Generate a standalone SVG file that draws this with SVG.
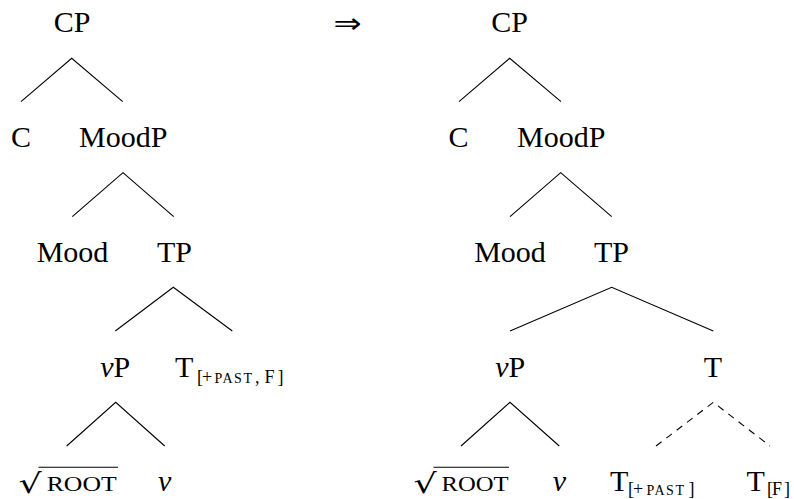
<svg xmlns="http://www.w3.org/2000/svg" width="794" height="499" viewBox="0 0 794 499">
<style>
text{font-family:"Liberation Serif","DejaVu Serif",serif;fill:#000}
.n{font-size:30px;text-anchor:middle}
.s{font-size:30px}
.sub{font-size:18px}
.sc{font-size:14px;letter-spacing:1.5px}
.rt{font-size:22px}
.rad{font-family:"DejaVu Serif",serif;font-size:27px}
.it{font-style:italic}
.e{stroke:#000;stroke-width:1.1;fill:none}
.d{stroke:#000;stroke-width:1.1;fill:none;stroke-dasharray:7 6}
</style>
<rect width="794" height="499" fill="#fff"/>
<g id="connectors">
<path class="e" d="M21 101.7L71.7 58.3L122.7 101.7"/>
<path class="e" d="M72.3 216.7L123 172.7L173.7 216.7"/>
<path class="e" d="M115.3 331L173.3 287.3L232.3 331"/>
<path class="e" d="M66.7 446L115.7 402.3L164.7 446"/>
<path class="e" d="M459 101.7L509.7 58.3L561 101.7"/>
<path class="e" d="M510 216.7L560.7 172.7L611.7 216.7"/>
<path class="e" d="M510 331L611.7 287.3L713.3 331"/>
<path class="e" d="M461 446L510 402.3L559.3 446"/>
<path class="d" d="M656 446L713.3 402.3L770 446"/>
</g>
<g id="arrow"><text transform="translate(347.5,33) scale(1.2,1)" style="font-family:'DejaVu Sans',sans-serif;font-size:28px;text-anchor:middle">⇒</text></g>
<g id="L-CP"><text class="n" x="72" y="32.3">CP</text></g>
<g id="L-C"><text class="n" x="21" y="146.7">C</text></g>
<g id="L-MoodP"><text class="n" x="123.3" y="146.7">MoodP</text></g>
<g id="L-Mood"><text class="n" x="72.5" y="261.7">Mood</text></g>
<g id="L-TP"><text class="n" x="174.5" y="261.7">TP</text></g>
<g id="L-vP"><text class="n" x="115.3" y="377"><tspan class="it">ν</tspan>P</text></g>
<g id="L-T"><text class="s" x="175" y="377">T</text><text class="sub" y="383.3"><tspan x="197">[</tspan><tspan x="202">+</tspan><tspan x="214.5" class="sc">PAST</tspan><tspan x="255">,</tspan><tspan x="264.5">F</tspan><tspan x="277.5">]</tspan></text></g>
<g id="L-root"><text class="rad" transform="translate(18.5,493) scale(1.35,1)">√</text><line class="e" x1="38.5" y1="467.2" x2="118" y2="467.2"/><text class="rt" x="46.7" y="491" textLength="70" lengthAdjust="spacingAndGlyphs">ROOT</text></g>
<g id="L-v"><text class="n it" x="164.7" y="491">ν</text></g>
<g id="R-CP"><text class="n" x="509.7" y="32.3">CP</text></g>
<g id="R-C"><text class="n" x="458.5" y="146.7">C</text></g>
<g id="R-MoodP"><text class="n" x="561.3" y="146.7">MoodP</text></g>
<g id="R-Mood"><text class="n" x="510" y="261.7">Mood</text></g>
<g id="R-TP"><text class="n" x="611.5" y="261.7">TP</text></g>
<g id="R-vP"><text class="n" x="510.3" y="377"><tspan class="it">ν</tspan>P</text></g>
<g id="R-T"><text class="n" x="713" y="377">T</text></g>
<g id="R-root"><text class="rad" transform="translate(413.5,493) scale(1.35,1)">√</text><line class="e" x1="433.5" y1="467.2" x2="509" y2="467.2"/><text class="rt" x="441.5" y="491" textLength="67" lengthAdjust="spacingAndGlyphs">ROOT</text></g>
<g id="R-v"><text class="n it" x="559.5" y="491">ν</text></g>
<g id="R-Tpast"><text class="s" x="610" y="491">T</text><text class="sub" y="495"><tspan x="628">[</tspan><tspan x="633">+</tspan><tspan x="646.5" class="sc">PAST</tspan><tspan x="688.5">]</tspan></text></g>
<g id="R-TF"><text class="s" x="746.5" y="491">T</text><text class="sub" y="495"><tspan x="767">[</tspan><tspan x="772">F</tspan><tspan x="784">]</tspan></text></g>
</svg>
